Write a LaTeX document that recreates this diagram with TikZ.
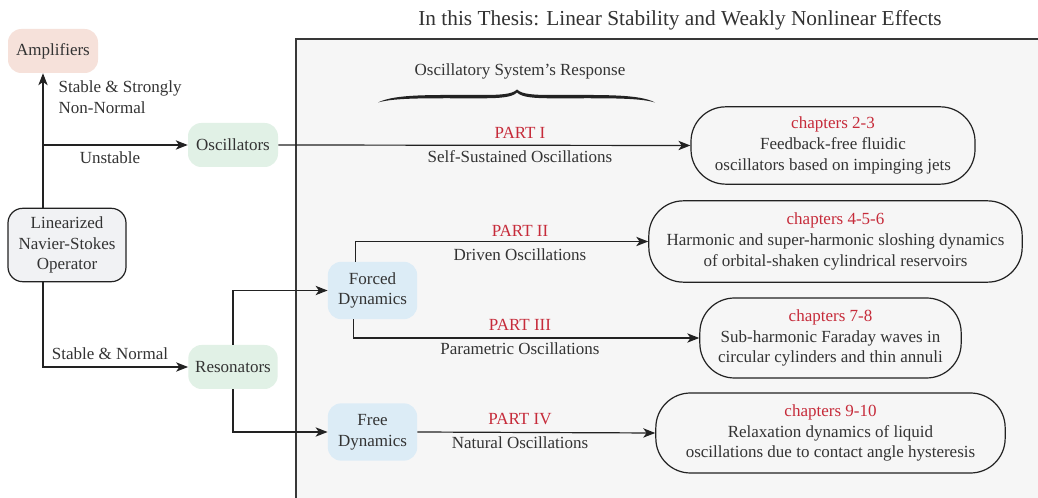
\documentclass[tikz,border=0pt]{standalone}
\usepackage{fontspec}
\setmainfont{Liberation Serif}
\usetikzlibrary{arrows.meta,calc}
\definecolor{txt}{HTML}{333333}
\definecolor{partred}{HTML}{C62B3A}
\definecolor{bgbox}{HTML}{F6F6F6}
\definecolor{ampfill}{HTML}{F6E1DA}
\definecolor{grnfill}{HTML}{E1F1E6}
\definecolor{blufill}{HTML}{DCECF6}
\definecolor{linfill}{HTML}{F1F2F4}
\definecolor{edge}{HTML}{222222}
\begin{document}
\begin{tikzpicture}[x=0.75pt,y=-0.75pt,
  every node/.style={text=txt,font=\fontsize{12.75}{15.5}\selectfont},
  tag/.style={rounded corners=10pt,inner sep=0pt,align=center},
  chapbox/.style={draw=edge,line width=0.9pt,rounded corners=26pt,fill=bgbox,inner sep=0pt,align=center},
  conn/.style={draw=edge,line width=0.9pt},
  arr/.style={conn,-{Stealth[length=9pt,width=7pt,inset=2.5pt]}},
  partlbl/.style={text=partred},
]
\useasboundingbox (0,0) rectangle (1038,498);
\fill[white] (0,0) rectangle (1038,498);
% background panel
\draw[fill=bgbox,draw=edge!90,line width=0.8pt] (296,39) rectangle (1045,505);
\node[font=\fontsize{16}{19}\selectfont] (title) at (680,20) {In this Thesis: Linear Stability and Weakly Nonlinear Effects};
\node (resp) at (520,71) {Oscillatory System’s Response};
% calligraphic brace
\fill[edge] (378,102.5) .. controls (395,94) and (430,95) .. (480,95)
  .. controls (500,95) and (512,94.5) .. (517,89.5)
  .. controls (522,94.5) and (534,95) .. (554,95)
  .. controls (604,95) and (639,94) .. (655,102.5)
  .. controls (639,97.5) and (604,98.3) .. (554,98.3)
  .. controls (534,98.3) and (522,97.5) .. (517,92.5)
  .. controls (512,97.5) and (500,98.3) .. (480,98.3)
  .. controls (430,98.3) and (395,97.5) .. (378,102.5) -- cycle;

% left nodes
\node[tag,fill=ampfill,minimum width=67.5pt,minimum height=33pt] (amp) at (53,51) {Amplifiers};
\node[tag,fill=grnfill,minimum width=67.5pt,minimum height=33pt] (osc) at (233,145) {Oscillators};
\node[tag,draw=edge,line width=0.9pt,fill=linfill,rounded corners=11pt,minimum width=88.5pt,minimum height=55pt] (lin) at (67,245) {Linearized\\Navier-Stokes\\Operator};
\node[tag,fill=grnfill,minimum width=67pt,minimum height=33pt] (res) at (233,367) {Resonators};
\node[tag,fill=blufill,minimum width=67pt,minimum height=43pt] (forced) at (372.5,290.5) {Forced\\Dynamics};
\node[tag,fill=blufill,minimum width=67pt,minimum height=43pt] (free) at (372.5,432) {Free\\Dynamics};

% chapter boxes
\node[chapbox,minimum width=213pt,minimum height=58pt] (c23) at (833,145.5) {\textcolor{partred}{chapters 2-3}\\Feedback-free fluidic\\oscillators based on impinging jets};
\node[chapbox,minimum width=280pt,minimum height=61pt] (c456) at (835.5,241.5) {\textcolor{partred}{chapters 4-5-6}\\Harmonic and super-harmonic sloshing dynamics\\of orbital-shaken cylindrical reservoirs};
\node[chapbox,minimum width=196pt,minimum height=60pt] (c78) at (830.5,338) {\textcolor{partred}{chapters 7-8}\\Sub-harmonic Faraday waves in\\circular cylinders and thin annuli};
\node[chapbox,minimum width=262pt,minimum height=60pt] (c910) at (830.5,433) {\textcolor{partred}{chapters 9-10}\\Relaxation dynamics of liquid\\oscillations due to contact angle hysteresis};

% connectors on the left
\coordinate (v) at (43,0);
\draw[arr] (lin.north -| v) -- (amp.south -| v);
\draw[arr] (v |- osc.west) -- (osc.west);
\draw[arr] (lin.south -| v) |- (res.west);
\draw[arr] (res.north) |- (forced.west);
\draw[arr] (res.south) |- (free.west);

\node[align=left,anchor=west] (lblamp) at (54,97) {Stable \& Strongly\\Non-Normal};
\node (lblunst) at (110,158) {Unstable};
\node (lblnorm) at (110,354) {Stable \& Normal};

% connectors to chapters
\draw[arr] (osc.east) -- (c23.west);
\draw[arr] ($(forced.north)+(-17,0)$) |- (c456.west);
\draw[arr] ($(forced.south)+(-19,0)$) |- (c78.west);
\draw[arr] (free.east) -- (c910.west);

\node[partlbl] (p1) at (520,133) {PART I};
\node (p1b) at (520,157) {Self-Sustained Oscillations};
\node[partlbl] (p2) at (520,231) {PART II};
\node (p2b) at (520,255) {Driven Oscillations};
\node[partlbl] (p3) at (520,325) {PART III};
\node (p3b) at (520,349) {Parametric Oscillations};
\node[partlbl] (p4) at (520,419) {PART IV};
\node (p4b) at (520,443) {Natural Oscillations};
\end{tikzpicture}
\end{document}
